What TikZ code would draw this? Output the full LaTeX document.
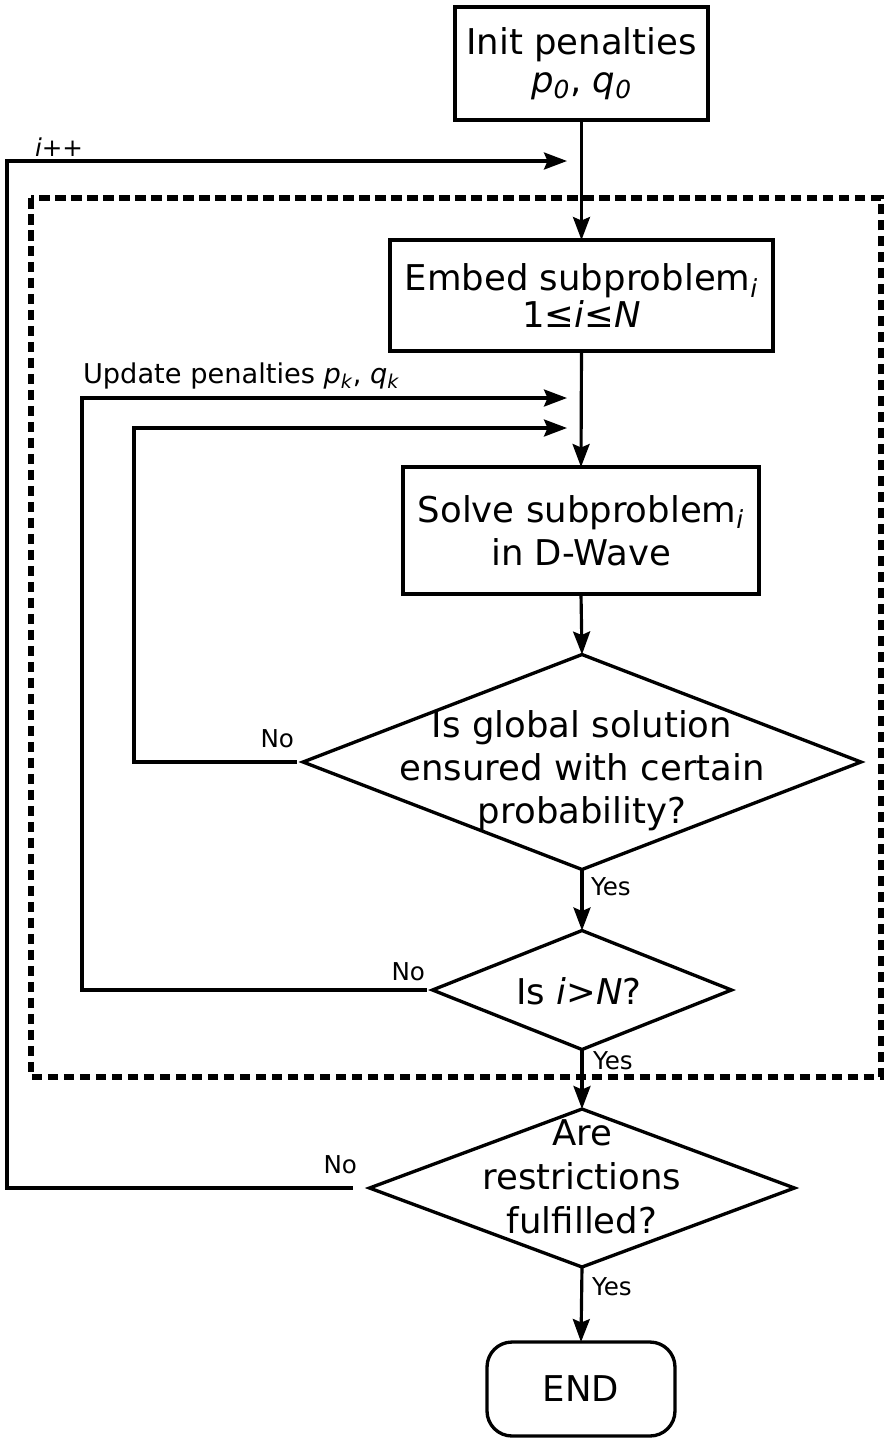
\documentclass[tikz,border=0pt]{standalone}
\usepackage{fontspec}
\setmainfont{DejaVu Sans}
\usetikzlibrary{shapes.geometric,arrows.meta}
\newcommand{\sbi}[1]{\textsubscript{\itshape #1}}
\begin{document}
\begin{tikzpicture}[x=0.02cm,y=-0.02cm,
  every node/.style={inner sep=0pt,outer sep=0pt},
  conn/.style={line width=1.8pt},
  arr/.style={conn,-{Stealth[length=0.46cm,width=0.34cm,inset=0.07cm]}},
  procbox/.style={draw,line width=1.9pt,align=center},
  decision/.style={draw,diamond,line width=1.9pt},
  endbox/.style={draw,line width=1.9pt,rounded corners=0.5cm,minimum width=3.76cm,minimum height=1.88cm,font=\fontsize{20.2}{24}\selectfont},
  dectext/.style={align=center},
  lbl/.style={font=\fontsize{14}{16}\selectfont},
  grp/.style={draw,line width=2.9pt,dash pattern=on 0.21cm off 0.11cm}
]
\useasboundingbox (0,0) rectangle (886,1438);

% group frame
\draw[grp] (31,198) rectangle (881,1077);

% process boxes
\node[procbox,minimum width=5.06cm,minimum height=2.26cm,font=\fontsize{20.2}{21.5}\selectfont] (init) at (581.5,63.5)
  {Init penalties\\\textit{p}\sbi{0}, \textit{q}\sbi{0}};
\node[procbox,minimum width=7.66cm,minimum height=2.22cm,font=\fontsize{20.2}{20.5}\selectfont] (embed) at (581.5,295.5)
  {Embed subproblem\sbi{i}\\1≤\textit{i}≤\textit{N}};
\node[procbox,minimum width=7.12cm,minimum height=2.54cm,font=\fontsize{20.2}{24.4}\selectfont] (solve) at (581,530.5)
  {Solve subproblem\sbi{i}\\in D-Wave};

% decisions
\node[decision,minimum width=11.16cm,minimum height=4.3cm] (d1) at (582,762) {};
\node[dectext,font=\fontsize{20.2}{24.4}\selectfont] (d1t) at (582,771)
  {Is global solution\\ensured with certain\\probability?};
\node[decision,minimum width=5.98cm,minimum height=2.38cm] (d2) at (582,990) {};
\node[font=\fontsize{20.2}{24}\selectfont] (d2t) at (579,991) {Is \textit{i}>\textit{N}?};
\node[decision,minimum width=8.5cm,minimum height=3.16cm] (d3) at (582,1188) {};
\node[dectext,font=\fontsize{20.2}{25}\selectfont] (d3t) at (582,1177)
  {Are\\restrictions\\fulfilled?};

% end
\node[endbox] (end) at (581,1389) {END};

% arrow tip points beside the main line
\coordinate (tI) at (567,161);
\coordinate (tU) at (567,398);
\coordinate (tG) at (567,428);

% main flow
\draw[arr] (init.south) -- (embed.north);
\draw[arr] (embed.south) -- (solve.north);
\draw[arr] (solve.south) -- (d1.north);
\draw[arr] (d1.south) -- (d2.north);
\draw[arr] (d2.south) -- (d3.north);
\draw[arr] (d3.south) -- (end.north);

% loops
\draw[arr] ([xshift=-0.12cm]d1.west) -| (134,428) -- (tG);
\draw[arr] ([xshift=-0.12cm]d2.west) -| (82,398) -- (tU);
\draw[arr] ([xshift=-0.34cm]d3.west) -| (7,161) -- (tI);

% labels
\node[lbl,anchor=base east] (no1) at (294,747) {No};
\node[lbl,anchor=base east] (no2) at (425,980) {No};
\node[lbl,anchor=base east] (no3) at (357,1173) {No};
\node[lbl,anchor=north west] (yes1) at (591,878) {Yes};
\node[lbl,anchor=north west] (yes2) at (593,1052) {Yes};
\node[lbl,anchor=north west] (yes3) at (592,1278) {Yes};
\node[lbl,anchor=base west] (ipp) at (35,156) {\textit{i}++};
\node[font=\fontsize{15.5}{17}\selectfont,anchor=base west] (upd) at (83,383)
  {Update penalties \textit{p}\sbi{k}, \textit{q}\sbi{k}};
\end{tikzpicture}
\end{document}
